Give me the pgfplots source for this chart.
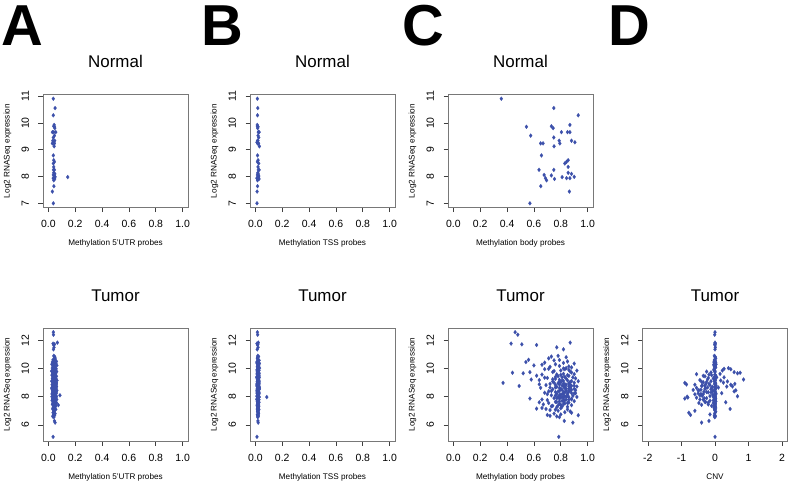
\documentclass[border=0pt]{standalone}
\usepackage{fontspec}
\setmainfont{Liberation Sans}
\usepackage{pgfplots}
\usepackage{pgfplotstable}
\pgfplotsset{compat=1.18}
\definecolor{ptblue}{RGB}{60,80,170}
\definecolor{boxgray}{RGB}{120,120,120}

\pgfplotstableread{
y utr tss body
10.91 0.037 0.015 0.357
10.56 0.050 0.018 0.748
10.29 0.037 0.016 0.930
9.88 0.040 0.015 0.730
9.86 0.045 0.020 0.544
9.81 0.048 0.017 0.743
9.93 0.043 0.014 0.868
9.66 0.030 0.022 0.805
9.66 0.040 0.028 0.850
9.66 0.055 0.024 0.868
9.53 0.045 0.020 0.576
9.46 0.037 0.025 0.748
9.34 0.033 0.016 0.880
9.28 0.038 0.012 0.905
9.34 0.047 0.019 0.788
9.24 0.045 0.024 0.793
9.24 0.030 0.017 0.650
9.24 0.040 0.021 0.668
9.13 0.043 0.030 0.750
8.79 0.037 0.016 0.656
8.61 0.040 0.020 0.855
8.55 0.045 0.015 0.843
8.49 0.037 0.025 0.830
8.36 0.040 0.020 0.855
8.25 0.038 0.028 0.638
8.25 0.045 0.022 0.748
8.06 0.037 0.015 0.676
8.04 0.043 0.024 0.730
8.14 0.040 0.018 0.855
8.10 0.048 0.021 0.880
7.94 0.045 0.012 0.686
7.86 0.040 0.016 0.694
7.91 0.047 0.027 0.753
7.98 0.144 0.020 0.810
7.94 0.036 0.023 0.843
7.94 0.042 0.014 0.868
7.99 0.050 0.025 0.900
7.64 0.041 0.016 0.651
7.44 0.030 0.013 0.864
7.00 0.037 0.012 0.570
}\normaldata

\pgfplotstableread{
y utr tss body cnv
12.58 0.037 0.015 0.46 0.00
12.40 0.038 0.017 0.48 -0.01
11.84 0.067 0.022 0.87 0.00
11.77 0.035 0.012 0.43 0.01
11.72 0.045 0.018 0.51 -0.01
11.67 0.040 0.016 0.62 0.00
11.50 0.042 0.020 0.77 0.01
11.36 0.038 0.014 0.82 0.00
10.90 0.040 0.018 0.78 -0.02
10.85 0.046 0.024 0.73 0.00
10.72 0.050 0.015 0.71 0.02
10.62 0.035 0.020 0.56 -0.01
10.58 0.052 0.028 0.75 0.00
10.50 0.060 0.013 0.85 0.01
10.46 0.030 0.019 0.54 -0.03
10.42 0.048 0.025 0.68 0.02
10.40 0.038 0.011 0.82 -0.02
10.35 0.056 0.030 0.90 0.00
10.30 0.026 0.016 0.76 0.03
10.27 0.043 0.022 0.66 -0.04
10.22 0.063 0.018 0.60 0.00
10.18 0.034 0.026 0.79 0.01
10.12 0.050 0.014 0.72 -0.02
10.08 0.041 0.020 0.88 0.02
10.03 0.029 0.031 0.84 0.40
9.98 0.058 0.017 0.71 0.27
9.95 0.046 0.023 0.68 0.47
9.90 0.036 0.012 0.86 -0.03
9.86 0.053 0.027 0.80 0.22
9.82 0.024 0.019 0.75 0.00
9.78 0.062 0.015 0.87 -0.25
9.74 0.042 0.024 0.57 0.57
9.70 0.032 0.018 0.44 0.75
9.66 0.049 0.028 0.52 0.67
9.62 0.055 0.013 0.82 0.15
9.57 0.038 0.021 0.66 -0.18
9.53 0.027 0.016 0.85 -0.10
9.49 0.045 0.025 0.62 0.02
9.45 0.060 0.019 0.78 -0.30
9.41 0.034 0.011 0.83 0.00
9.37 0.051 0.029 0.89 0.27
9.33 0.041 0.017 0.70 -0.20
9.30 0.030 0.023 0.91 -0.05
9.26 0.057 0.014 0.76 0.01
9.22 0.046 0.020 0.58 0.85
9.18 0.037 0.026 0.64 -0.45
9.15 0.064 0.018 0.81 0.17
9.10 0.025 0.022 0.88 -0.02
9.08 0.043 0.015 0.74 0.37
9.02 0.052 0.024 0.80 -0.35
8.98 0.033 0.019 0.37 -0.90
8.94 0.048 0.013 0.86 0.00
8.91 0.059 0.027 0.72 0.59
8.87 0.039 0.018 0.79 -0.85
8.85 0.028 0.021 0.84 0.47
8.82 0.054 0.016 0.69 -0.15
8.78 0.044 0.025 0.90 0.03
8.76 0.035 0.012 0.49 -0.40
8.73 0.061 0.020 0.82 0.52
8.70 0.047 0.028 0.77 -0.08
8.67 0.031 0.017 0.87 0.00
8.63 0.040 0.023 0.65 -0.55
8.60 0.056 0.014 0.83 -0.28
8.57 0.026 0.019 0.80 0.01
8.53 0.050 0.026 0.74 -0.12
8.49 0.036 0.015 0.88 -0.42
8.45 0.063 0.021 0.84 0.62
8.42 0.043 0.018 0.79 -0.02
8.38 0.032 0.024 0.71 0.57
8.35 0.053 0.013 0.86 -0.33
8.31 0.039 0.020 0.82 -0.20
8.28 0.058 0.027 0.68 0.00
8.24 0.029 0.016 0.90 -0.50
8.20 0.046 0.022 0.77 0.03
8.17 0.035 0.018 0.81 -0.60
8.13 0.051 0.025 0.85 -0.07
8.10 0.086 0.014 0.73 0.00
8.06 0.042 0.020 0.89 -0.38
8.03 0.060 0.012 0.83 0.67
8.00 0.027 0.019 0.78 -0.83
7.97 0.048 0.085 0.86 0.01
7.94 0.037 0.024 0.80 -0.81
7.90 0.055 0.017 0.75 -0.25
7.87 0.033 0.021 0.57 -0.90
7.84 0.044 0.015 0.88 0.00
7.80 0.062 0.026 0.84 -0.45
7.76 0.039 0.018 0.70 -0.02
7.72 0.028 0.022 0.82 -0.15
7.68 0.050 0.014 0.90 0.02
7.63 0.041 0.020 0.76 -0.30
7.60 0.057 0.027 0.64 0.32
7.55 0.034 0.016 0.85 -0.05
7.50 0.046 0.023 0.79 0.00
7.45 0.030 0.019 0.67 -0.20
7.40 0.074 0.013 0.88 0.01
7.35 0.053 0.021 0.74 -0.10
7.30 0.040 0.025 0.81 0.00
7.25 0.036 0.017 0.77 -0.03
7.20 0.049 0.022 0.66 0.02
7.15 0.043 0.015 0.62 -0.02
7.13 0.032 0.019 0.69 0.45
7.10 0.055 0.026 0.85 0.00
7.05 0.038 0.018 0.72 -0.01
7.00 0.045 0.023 0.78 -0.60
6.95 0.040 0.016 0.87 0.02
6.86 0.035 0.020 0.88 -0.78
6.80 0.050 0.024 0.75 -0.01
6.74 0.042 0.015 0.80 -0.15
6.70 0.038 0.021 0.70 -0.73
6.68 0.046 0.018 0.93 0.00
6.60 0.033 0.022 0.77 0.01
6.55 0.041 0.017 0.79 -0.01
6.28 0.045 0.019 0.826 -0.18
6.16 0.050 0.021 0.89 -0.40
5.15 0.035 0.012 0.785 0.00
9.55 0.044 0.020 0.80 0.00
9.40 0.037 0.016 0.76 -0.01
9.28 0.052 0.024 0.84 0.01
9.20 0.040 0.018 0.79 -0.02
9.12 0.047 0.022 0.82 0.00
9.05 0.033 0.014 0.87 -0.25
8.96 0.056 0.026 0.78 0.02
8.89 0.042 0.019 0.83 -0.01
8.80 0.038 0.021 0.81 -0.38
8.74 0.050 0.017 0.86 0.00
8.66 0.045 0.023 0.76 -0.22
8.58 0.035 0.016 0.84 0.02
8.52 0.053 0.025 0.80 -0.01
8.44 0.041 0.019 0.87 -0.50
8.37 0.047 0.022 0.78 0.00
8.30 0.036 0.015 0.83 -0.12
8.22 0.058 0.027 0.85 0.01
8.15 0.043 0.020 0.80 -0.02
8.08 0.039 0.018 0.76 -0.45
8.01 0.051 0.023 0.84 0.00
7.93 0.046 0.016 0.82 -0.55
7.86 0.034 0.021 0.79 0.02
7.78 0.055 0.025 0.86 -0.35
7.70 0.040 0.017 0.81 0.00
7.62 0.048 0.022 0.77 -0.28
7.52 0.037 0.019 0.83 0.01
7.42 0.044 0.024 0.80 -0.40
7.32 0.052 0.015 0.73 -0.01
9.60 0.031 0.026 0.90 -0.55
9.85 0.047 0.021 0.92 -0.02
9.75 0.039 0.014 0.74 0.00
10.00 0.054 0.023 0.82 -0.01
10.15 0.044 0.018 0.86 0.00
10.60 0.041 0.020 0.79 -0.02
10.80 0.048 0.016 0.84 0.01
8.55 0.029 0.030 0.90 -0.30
8.85 0.057 0.012 0.87 -0.60
9.10 0.036 0.028 0.93 -0.12
8.25 0.049 0.013 0.91 0.20
7.98 0.042 0.029 0.92 -0.05
7.80 0.031 0.011 0.66 0.00
8.40 0.060 0.025 0.73 -0.07
9.35 0.053 0.011 0.68 -0.01
8.65 0.027 0.029 0.72 0.10
7.55 0.061 0.020 0.71 -0.48
9.95 0.041 0.019 0.83 -0.03
9.72 0.050 0.023 0.88 -0.12
9.58 0.036 0.015 0.77 0.00
9.48 0.047 0.027 0.86 -0.35
9.38 0.043 0.018 0.81 0.05
9.24 0.038 0.021 0.74 -0.22
9.16 0.055 0.016 0.85 0.01
9.06 0.045 0.024 0.79 -0.40
8.99 0.039 0.020 0.90 0.00
8.92 0.052 0.017 0.82 -0.18
8.84 0.034 0.025 0.76 0.02
8.77 0.048 0.014 0.88 -0.30
8.69 0.042 0.022 0.83 0.00
8.62 0.057 0.018 0.79 -0.10
8.56 0.037 0.026 0.86 0.01
8.48 0.046 0.015 0.81 -0.65
8.41 0.040 0.021 0.84 0.00
8.33 0.054 0.019 0.76 -0.25
8.26 0.033 0.024 0.88 0.02
8.19 0.049 0.016 0.82 -0.42
8.11 0.044 0.022 0.79 0.00
8.04 0.038 0.018 0.85 -0.15
7.96 0.056 0.025 0.81 0.01
7.88 0.041 0.014 0.77 -0.32
7.81 0.047 0.020 0.88 0.00
7.74 0.035 0.023 0.83 -0.05
7.66 0.052 0.017 0.79 0.02
7.58 0.043 0.021 0.86 -0.20
7.48 0.039 0.016 0.82 0.00
7.38 0.050 0.024 0.78 -0.02
7.28 0.045 0.019 0.85 0.01
7.18 0.037 0.022 0.80 -0.01
7.08 0.048 0.015 0.76 0.00
6.90 0.042 0.021 0.83 0.01
6.64 0.036 0.018 0.72 -0.02
8.72 0.058 0.023 0.92 0.35
8.46 0.031 0.012 0.91 -0.48
9.00 0.060 0.026 0.75 0.25
8.18 0.028 0.020 0.70 -0.35
8.88 0.051 0.018 0.64 -0.28
}\tumordata

\pgfplotsset{
  panel/.style={
    scale only axis, width=145bp, height=113bp,
    axis line style={boxgray, line width=0.8bp},
    tick align=outside, major tick length=4.5bp,
    tick style={black!75, line width=0.6bp},
    xtick pos=bottom, ytick pos=left,
    tick label style={font=\fontsize{10.5}{11}\selectfont},
    yticklabel style={rotate=90, anchor=south},
    xticklabel shift=5bp, yticklabel shift=6bp,
    title style={font=\fontsize{17}{18}\selectfont, at={(axis description cs:0.5,1)}, anchor=base, yshift=21bp},
    ylabel={Log2 RNASeq expression},
    every axis y label/.style={at={(axis description cs:0,0.5)}, xshift=-35.5bp, rotate=90, anchor=center, font=\fontsize{8.2}{9}\selectfont},
    every axis x label/.style={at={(axis description cs:0.5,0)}, yshift=-36bp, anchor=center, font=\fontsize{8.2}{9}\selectfont},
  },
  meth/.style={xmin=-0.04, xmax=1.04, xtick={0,0.2,0.4,0.6,0.8,1}, xticklabels={0.0,0.2,0.4,0.6,0.8,1.0}},
  nrow/.style={ymin=6.843, ymax=11.067, ytick={7,8,9,10,11}, yticklabels={7,8,9,10,11}, title={Normal}},
  trow/.style={ymin=4.853, ymax=12.877, ytick={6,8,10,12}, yticklabels={6,8,10,12}, title={Tumor}},
  pts/.style={only marks, mark=diamond*, mark size=2bp, color=ptblue, mark options={draw=ptblue, fill=ptblue, line width=0.2bp}},
}

\begin{document}
\begin{tikzpicture}
\useasboundingbox (0,0) rectangle (789bp,-486bp);
\node[anchor=base west, inner sep=0, font=\fontsize{58}{58}\bfseries] at (1bp,-45bp) {A};
\node[anchor=base west, inner sep=0, font=\fontsize{58}{58}\bfseries] at (201bp,-45bp) {B};
\node[anchor=base west, inner sep=0, font=\fontsize{58}{58}\bfseries] at (402bp,-45bp) {C};
\node[anchor=base west, inner sep=0, font=\fontsize{58}{58}\bfseries] at (608bp,-45bp) {D};

% Normal row
\begin{axis}[panel, meth, nrow, at={(43bp,-94.5bp)}, anchor=north west, xlabel={Methylation 5'UTR probes}]
\addplot[pts] table[x=utr, y=y] {\normaldata};
\end{axis}
\begin{axis}[panel, meth, nrow, at={(250bp,-94.5bp)}, anchor=north west, xlabel={Methylation TSS probes}]
\addplot[pts] table[x=tss, y=y] {\normaldata};
\end{axis}
\begin{axis}[panel, meth, nrow, at={(448bp,-94.5bp)}, anchor=north west, xlabel={Methylation body probes}]
\addplot[pts] table[x=body, y=y] {\normaldata};
\end{axis}

% Tumor row
\begin{axis}[panel, meth, trow, at={(43bp,-328bp)}, anchor=north west, xlabel={Methylation 5'UTR probes}]
\addplot[pts] table[x=utr, y=y] {\tumordata};
\end{axis}
\begin{axis}[panel, meth, trow, at={(250bp,-328bp)}, anchor=north west, xlabel={Methylation TSS probes}]
\addplot[pts] table[x=tss, y=y] {\tumordata};
\end{axis}
\begin{axis}[panel, meth, trow, at={(448bp,-328bp)}, anchor=north west, xlabel={Methylation body probes}]
\addplot[pts] table[x=body, y=y] {\tumordata};
\end{axis}
\begin{axis}[panel, trow, at={(642.5bp,-328bp)}, anchor=north west, xlabel={CNV},
  xmin=-2.16, xmax=2.16, xtick={-2,-1,0,1,2}, xticklabels={-2,-1,0,1,2}]
\addplot[pts] table[x=cnv, y=y] {\tumordata};
\end{axis}
\end{tikzpicture}
\end{document}
